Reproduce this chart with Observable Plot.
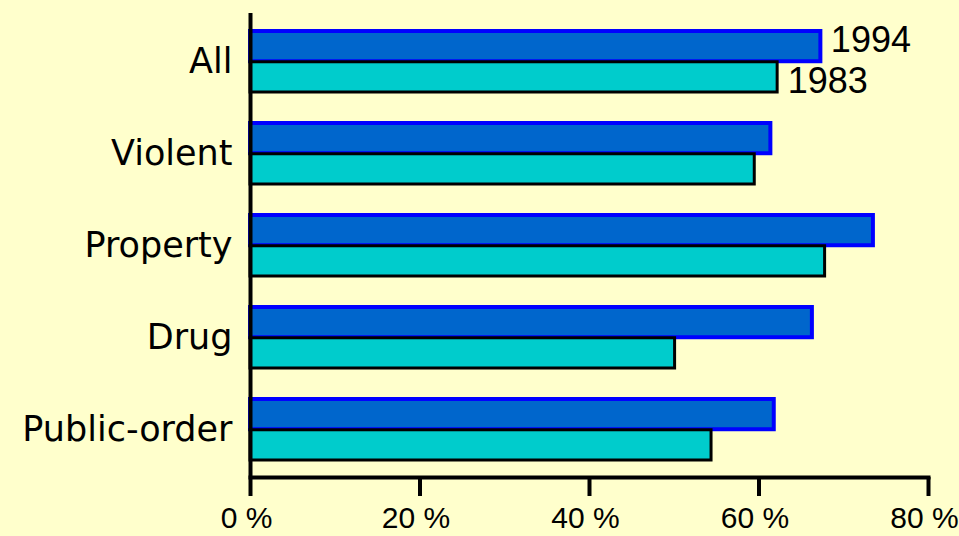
<!DOCTYPE html>
<html>
<head>
<meta charset="utf-8">
<script src="https://cdn.jsdelivr.net/npm/d3@7"></script>
<script src="https://cdn.jsdelivr.net/npm/@observablehq/plot@0.6"></script>
<style>
  html, body { margin: 0; padding: 0; background: #ffffcc; }
  #chart svg { display: block; }
</style>
</head>
<body>
<div id="chart"></div>
<script>
const categories = ["All", "Violent", "Property", "Drug", "Public-order"];
const values1994 = [67.3, 61.4, 73.5, 66.3, 61.8];
const values1983 = [62.2, 59.5, 67.8, 50.1, 54.4];
const years = ["1994", "1983"];
const xTicks = [0, 20, 40, 60, 80];

const rows1994 = categories.map((c, i) => ({category: c, value: values1994[i], year: years[0]}));
const rows1983 = categories.map((c, i) => ({category: c, value: values1983[i], year: years[1]}));

const bandTop = 30, bandBottom = 460.5, padInner = 0.333;
const step = (bandBottom - bandTop) / (categories.length - padInner);
const bw = step * (1 - padInner);
const half = bw / 2;

const chart = Plot.plot({
  width: 959,
  height: 536,
  marginLeft: 250,
  marginRight: 31,
  marginTop: 13,
  marginBottom: 59,
  style: {background: "#ffffcc", color: "black"},
  x: {domain: [0, 80], axis: null},
  y: {domain: categories, range: [bandTop, bandBottom], paddingInner: padInner, paddingOuter: 0, axis: null},
  marks: [
    Plot.barX(rows1994, {x: "value", y: "category", fill: "#0066cc", stroke: "#0000ff", strokeWidth: 4, insetBottom: half}),
    Plot.barX(rows1983, {x: "value", y: "category", fill: "#00cccc", stroke: "black", strokeWidth: 3, insetTop: half}),
    Plot.text(rows1994.filter(d => d.category === categories[0]), {x: "value", y: "category", text: "year", dx: 10, dy: -22, textAnchor: "start", lineAnchor: "middle", fontSize: 36, fontFamily: "Liberation Sans, Arial, sans-serif", fill: "black"}),
    Plot.text(rows1983.filter(d => d.category === categories[0]), {x: "value", y: "category", text: "year", dx: 10, dy: 19, textAnchor: "start", lineAnchor: "middle", fontSize: 36, fontFamily: "Liberation Sans, Arial, sans-serif", fill: "black"}),
    Plot.axisY({tickSize: 0, tickPadding: 18, fontSize: 35, fontFamily: "DejaVu Sans, sans-serif", label: null}),
    Plot.frame({anchor: "bottom", stroke: "black", strokeWidth: 4}),
    Plot.ruleX([0], {stroke: "black", strokeWidth: 4}),
    Plot.axisX({ticks: xTicks, tickSize: 19, strokeWidth: 4, stroke: "black", tickFormat: () => "", label: null}),
    Plot.axisX({ticks: xTicks, tickSize: 0, tickPadding: 29, tickFormat: d => d + " %", fontSize: 30, dx: -4, fontFamily: "Liberation Sans, Arial, sans-serif", fill: "black", label: null})
  ]
});
document.getElementById("chart").appendChild(chart);
</script>
</body>
</html>
